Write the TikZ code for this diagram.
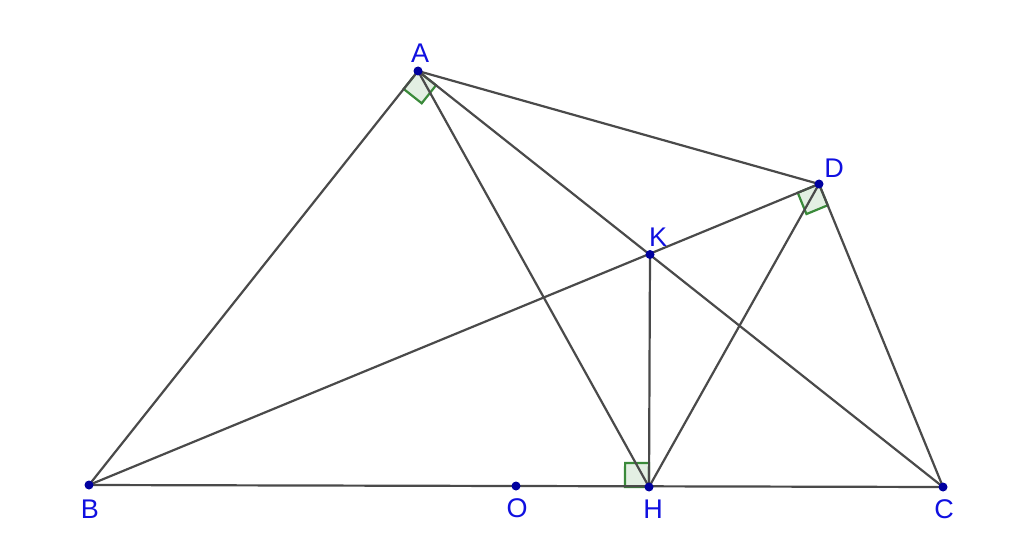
\documentclass[tikz,border=0pt]{standalone}
\usetikzlibrary{calc}
\usepackage{fontspec}
\setmainfont{Liberation Sans}
\newfontfamily\labfont{Liberation Sans}
\definecolor{seg}{HTML}{4A4A4A}
\definecolor{pt}{HTML}{0000A0}
\definecolor{lbl}{HTML}{1010E0}
\definecolor{angfill}{HTML}{E3EFE3}
\definecolor{angline}{HTML}{3A8A3A}
\begin{document}
\begin{tikzpicture}[x=1pt,y=-1pt,
  seg/.style={draw=seg,line width=2.2pt},
  rang/.style={draw=angline,fill=angfill,line width=2.2pt,line join=miter},
  dot/.style={circle,fill=pt,inner sep=0pt,minimum size=9pt},
  lab/.style={text=lbl,inner sep=0pt,font=\labfont\fontsize{27}{29}\selectfont}]
\useasboundingbox (0,0) rectangle (1024,553);
\coordinate (A) at (418,71);
\coordinate (B) at (89,485);
\coordinate (C) at (943,487);
\coordinate (D) at (819,184);
\coordinate (K) at (650,254.5);
\coordinate (H) at (649,487);
\coordinate (O) at (516,486);
% right angle markers
\coordinate (a1) at ($(A)!23pt!(B)$);
\coordinate (a2) at ($(A)!23pt!(C)$);
\coordinate (a3) at ($(a1)+(a2)-(A)$);
\draw[rang] (A) -- (a1) -- (a3) -- (a2) -- cycle;
\coordinate (d1) at ($(D)!23pt!(B)$);
\coordinate (d2) at ($(D)!23pt!(C)$);
\coordinate (d3) at ($(d1)+(d2)-(D)$);
\draw[rang] (D) -- (d1) -- (d3) -- (d2) -- cycle;
\coordinate (h1) at ($(H)!24pt!(B)$);
\coordinate (h2) at ($(H)!24pt!(K)$);
\coordinate (h3) at ($(h1)+(h2)-(H)$);
\draw[rang] (H) -- (h1) -- (h3) -- (h2) -- cycle;
% segments
\draw[seg] (A) -- (B);
\draw[seg] (A) -- (C);
\draw[seg] (A) -- (D);
\draw[seg] (A) -- (H);
\draw[seg] (B) -- (D);
\draw[seg] (B) -- (C);
\draw[seg] (D) -- (C);
\draw[seg] (D) -- (H);
\draw[seg] (K) -- (H);
% points
\foreach \p in {A,B,C,D,K,H,O} \node[dot] at (\p) {};
% labels
\node[lab] (lA) at (420,53) {A};
\node[lab] (lD) at (834,168) {D};
\node[lab] (lK) at (658,237) {K};
\node[lab] (lB) at (90,509) {B};
\node[lab] (lO) at (517,508) {O};
\node[lab] (lH) at (653,509) {H};
\node[lab] (lC) at (944,509) {C};
\end{tikzpicture}
\end{document}
